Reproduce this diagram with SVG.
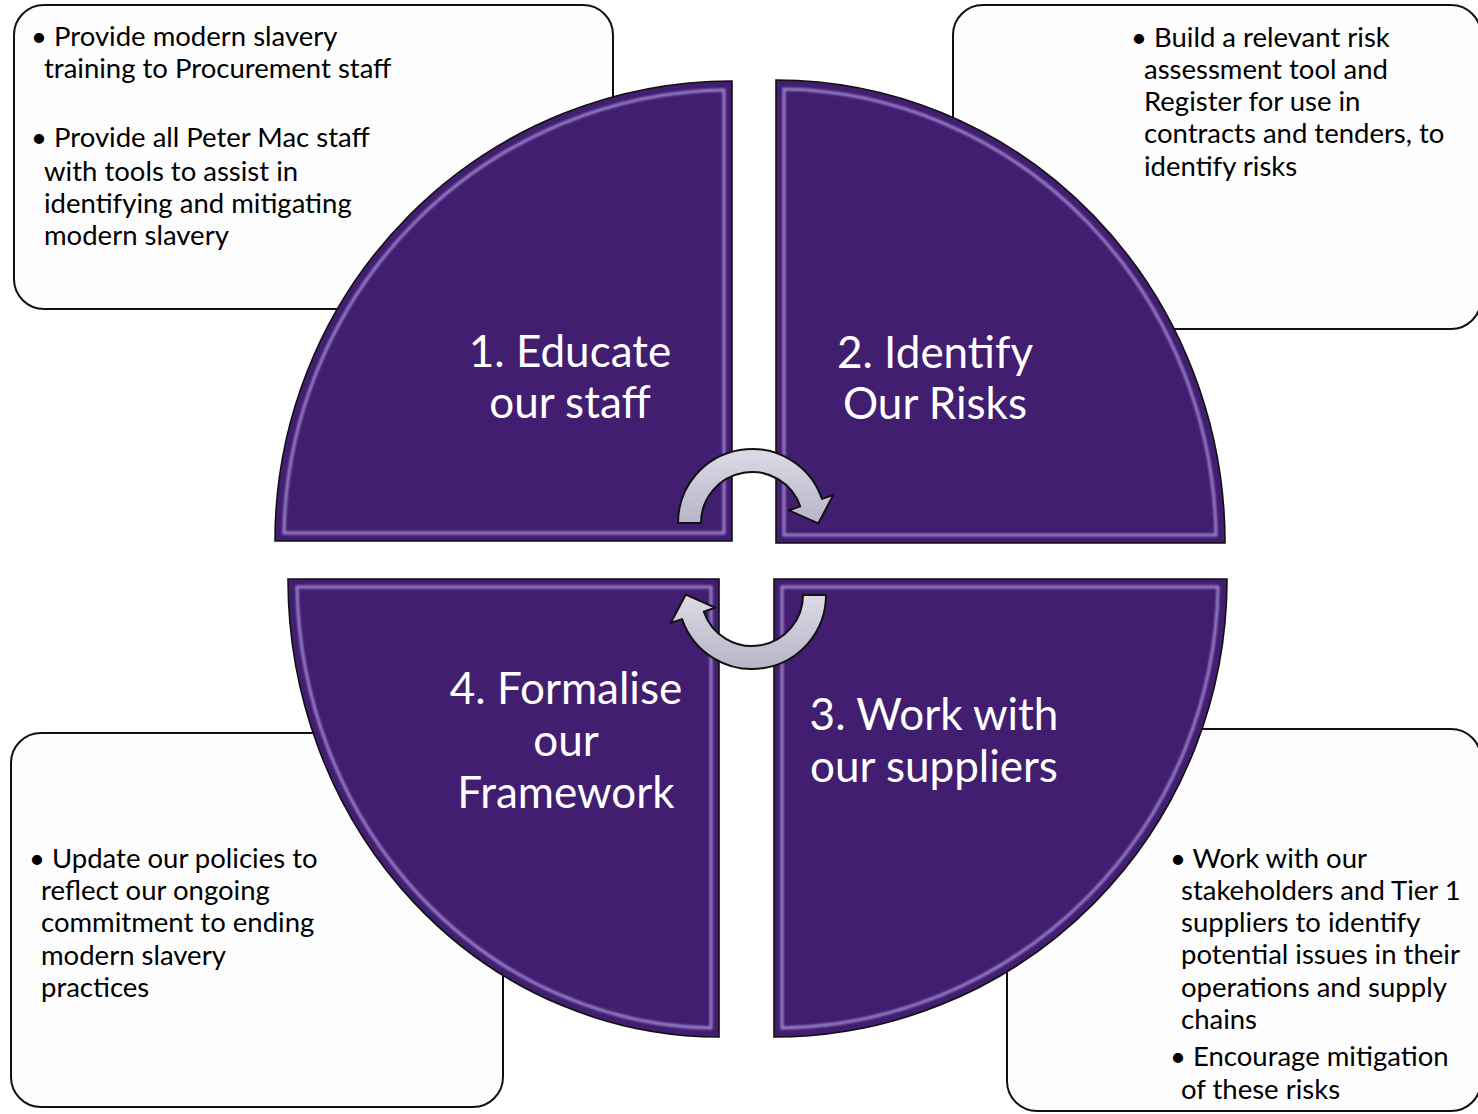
<svg xmlns="http://www.w3.org/2000/svg" width="1478" height="1114" viewBox="0 0 1478 1114">
<style>
.box{fill:#fdfdfd;stroke:#111;stroke-width:2}
.q{fill:#421e70;stroke:#111;stroke-width:1.6}
.bev{fill:none;stroke:#a993dc;stroke-width:3;opacity:.85;filter:url(#blur)}
.arr{fill:url(#ag);stroke:#111;stroke-width:2;stroke-linejoin:round}
.t{font-family:Lato,"Liberation Sans",sans-serif;font-size:27.5px;fill:#000}
.big{font-family:Lato,"Liberation Sans",sans-serif;font-size:44px;fill:#fff;text-anchor:middle}
</style>
<defs>
<filter id="blur" x="-5%" y="-5%" width="110%" height="110%"><feGaussianBlur stdDeviation="1.2"/></filter>
<linearGradient id="ag" x1="0" y1="0" x2="0" y2="1">
<stop offset="0" stop-color="#dcdbe6"/><stop offset="1" stop-color="#b7b4c7"/>
</linearGradient>
</defs>
<rect width="1478" height="1114" fill="#fff"/>
<g id="box-educate"><rect class="box" x="14" y="5" width="599" height="304" rx="30"/>
<text class="t"><tspan x="31" y="46">• Provide modern slavery</tspan><tspan x="44" y="78">training to Procurement staff</tspan><tspan x="31" y="147">• Provide all Peter Mac staff</tspan><tspan x="44" y="181">with tools to assist in</tspan><tspan x="44" y="213">identifying and mitigating</tspan><tspan x="44" y="245">modern slavery</tspan></text></g>
<g id="box-identify"><rect class="box" x="953" y="5" width="528" height="324" rx="30"/>
<text class="t"><tspan x="1131" y="47">• Build a relevant risk</tspan><tspan x="1144" y="79">assessment tool and</tspan><tspan x="1144" y="111">Register for use in</tspan><tspan x="1144" y="143">contracts and tenders, to</tspan><tspan x="1144" y="176">identify risks</tspan></text></g>
<g id="box-formalise"><rect class="box" x="11" y="733" width="492" height="374" rx="30"/>
<text class="t"><tspan x="29" y="868">• Update our policies to</tspan><tspan x="41" y="900">reflect our ongoing</tspan><tspan x="41" y="932">commitment to ending</tspan><tspan x="41" y="965">modern slavery</tspan><tspan x="41" y="997">practices</tspan></text></g>
<g id="box-suppliers"><rect class="box" x="1007" y="729" width="474" height="382" rx="30"/>
<text class="t"><tspan x="1170" y="868">• Work with our</tspan><tspan x="1181" y="900">stakeholders and Tier 1</tspan><tspan x="1181" y="932">suppliers to identify</tspan><tspan x="1181" y="964">potential issues in their</tspan><tspan x="1181" y="997">operations and supply</tspan><tspan x="1181" y="1029">chains</tspan><tspan x="1170" y="1066">• Encourage mitigation</tspan><tspan x="1181" y="1099">of these risks</tspan></text></g>
<g id="q1-educate"><path class="q" d="M732,541 L732,81 A457,460 0 0 0 275,541 Z"/>
<path class="bev" d="M724,533 L724,90 A448,451 0 0 0 284,533 Z"/>
<text class="big"><tspan x="570" y="367">1. Educate</tspan><tspan x="570" y="418">our staff</tspan></text></g>
<g id="q2-identify"><path class="q" d="M776,543 L776,80 A449,463 0 0 1 1225,543 Z"/>
<path class="bev" d="M784,535 L784,89 A440,454 0 0 1 1216,535 Z"/>
<text class="big"><tspan x="935" y="368">2. Identify</tspan><tspan x="935" y="419">Our Risks</tspan></text></g>
<g id="q3-suppliers"><path class="q" d="M774,579 L1227,579 A453,458 0 0 1 774,1037 Z"/>
<path class="bev" d="M782,587 L1218,587 A444,449 0 0 1 782,1028 Z"/>
<text class="big"><tspan x="934" y="730">3. Work with</tspan><tspan x="934" y="782">our suppliers</tspan></text></g>
<g id="q4-formalise"><path class="q" d="M719,579 L288,579 A431,458 0 0 0 719,1037 Z"/>
<path class="bev" d="M711,587 L297,587 A422,449 0 0 0 711,1028 Z"/>
<text class="big"><tspan x="566" y="704">4. Formalise</tspan><tspan x="566" y="756">our</tspan><tspan x="566" y="808">Framework</tspan></text></g>
<g id="connectors">
<path class="arr" d="M678,523 A74,74 0 0 1 821.97,498.91 L833.31,495 L818.25,523.45 L788.87,510.3 L800.22,506.4 A51,51 0 0 0 701,523 Z"/>
<path class="arr" d="M826,595 A74,74 0 0 1 682.03,619.09 L670.69,623 L685.75,594.55 L715.13,607.7 L703.78,611.61 A51,51 0 0 0 803,595 Z"/>
</g>
</svg>
